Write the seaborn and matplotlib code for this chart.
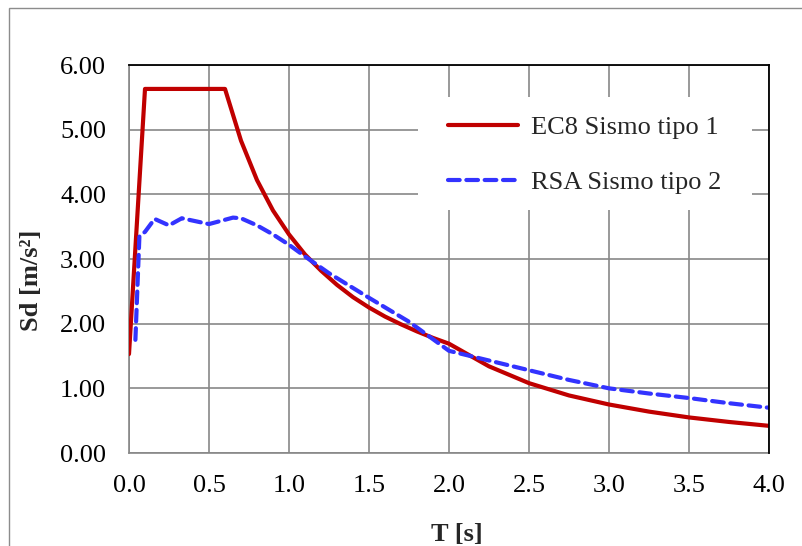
import matplotlib
matplotlib.use("Agg")
import matplotlib.pyplot as plt
import seaborn as sns
import pandas as pd
from matplotlib.patches import Rectangle

# ---- data ----
T_ec8 = [0.0, 0.1, 0.6, 0.7, 0.8, 0.9, 1.0, 1.1, 1.2, 1.3, 1.4, 1.5, 1.6, 1.7, 1.8,
         1.9, 2.0, 2.25, 2.5, 2.75, 3.0, 3.25, 3.5, 3.75, 4.0]
Sd_ec8 = [1.53, 5.63, 5.63, 4.83, 4.22, 3.75, 3.38, 3.07, 2.82, 2.60, 2.41, 2.25, 2.11,
          1.99, 1.88, 1.78, 1.69, 1.34, 1.08, 0.89, 0.75, 0.64, 0.55, 0.48, 0.42]

T_rsa = [0.04, 0.065, 0.1, 0.16, 0.25, 0.33, 0.5, 0.65, 0.7, 0.8, 0.9, 1.0, 1.1, 1.25,
         1.5, 1.75, 2.0, 2.25, 2.5, 2.75, 3.0, 3.25, 3.5, 3.75, 4.0]
Sd_rsa = [1.75, 3.35, 3.42, 3.62, 3.52, 3.63, 3.54, 3.64, 3.63, 3.52, 3.38, 3.22, 3.04,
          2.78, 2.40, 2.03, 1.58, 1.43, 1.28, 1.13, 1.00, 0.92, 0.85, 0.77, 0.70]

label_ec8 = "EC8 Sismo tipo 1"
label_rsa = "RSA Sismo tipo 2"
x_ticks = [0.0, 0.5, 1.0, 1.5, 2.0, 2.5, 3.0, 3.5, 4.0]
y_ticks = [0.0, 1.0, 2.0, 3.0, 4.0, 5.0, 6.0]
x_title = "T [s]"
y_title = "Sd [m/s²]"

df_ec8 = pd.DataFrame({"T": T_ec8, "Sd": Sd_ec8})
df_rsa = pd.DataFrame({"T": T_rsa, "Sd": Sd_rsa})

sns.set_style("white")
plt.rcParams["font.family"] = ["Liberation Serif", "DejaVu Serif"]

fig = plt.figure(figsize=(8.03, 5.46), dpi=100)
ax = fig.add_axes([129/803, 1-453/546, (769-129)/803, (453-65)/546])

GRID = "#878787"
FS = 19

sns.lineplot(data=df_ec8, x="T", y="Sd", ax=ax, color="#C00000", lw=3.0,
             label=label_ec8, zorder=3)
sns.lineplot(data=df_rsa, x="T", y="Sd", ax=ax, color="#3333FF", lw=3.0,
             label=label_rsa, zorder=4, dashes=False)
ax.lines[1].set_dashes([2.8, 1.6])
ax.lines[1].set_dash_capstyle("round")

ax.set_xlim(0, 4.0)
ax.set_ylim(0, 6.0)
ax.set_xticks(x_ticks)
ax.set_yticks(y_ticks)
ax.set_xticklabels([f"{v:.1f}" for v in x_ticks])
ax.set_yticklabels([f"{v:.2f}" for v in y_ticks])
ax.grid(True, color=GRID, lw=1.2, zorder=0)
ax.set_axisbelow(True)

ax.tick_params(axis="both", which="major", labelsize=FS, colors="black",
               color=GRID, width=1.2, direction="out")
ax.tick_params(axis="y", length=6.5, pad=10)
ax.tick_params(axis="x", length=5.5, pad=10)

for side in ["left", "bottom"]:
    ax.spines[side].set_color(GRID)
    ax.spines[side].set_linewidth(1.2)
for side in ["top", "right"]:
    ax.spines[side].set_color("black")
    ax.spines[side].set_linewidth(1.3)
    ax.spines[side].set_zorder(5)

ax.set_xlabel(x_title, fontsize=FS, fontweight="bold")
ax.set_ylabel(y_title, fontsize=FS, fontweight="bold")
ax.xaxis.set_label_coords(0.513, -0.180)
ax.xaxis.label.set_va("top")
ax.yaxis.set_label_coords(-0.134, 0.446)

# white area behind the legend (hides the grid like the original)
ax.add_patch(Rectangle(((418-129)/640, (453-210)/388), (752-418)/640, (210-97)/388,
                       transform=ax.transAxes, facecolor="white", edgecolor="none",
                       zorder=2))

leg = ax.legend(loc="upper right", bbox_to_anchor=(0.926, 0.870), borderaxespad=0,
                frameon=False, fontsize=FS, handlelength=2.65, handletextpad=0.5,
                labelspacing=1.2, borderpad=0)
leg.set_zorder(6)

fig.patches.append(Rectangle((9/803, -0.1), 1.2, 1.1 - 8/546,
                             transform=fig.transFigure, fill=False,
                             edgecolor="#8c8c8c", lw=1.0))

fig.savefig("out.png", dpi=100)
